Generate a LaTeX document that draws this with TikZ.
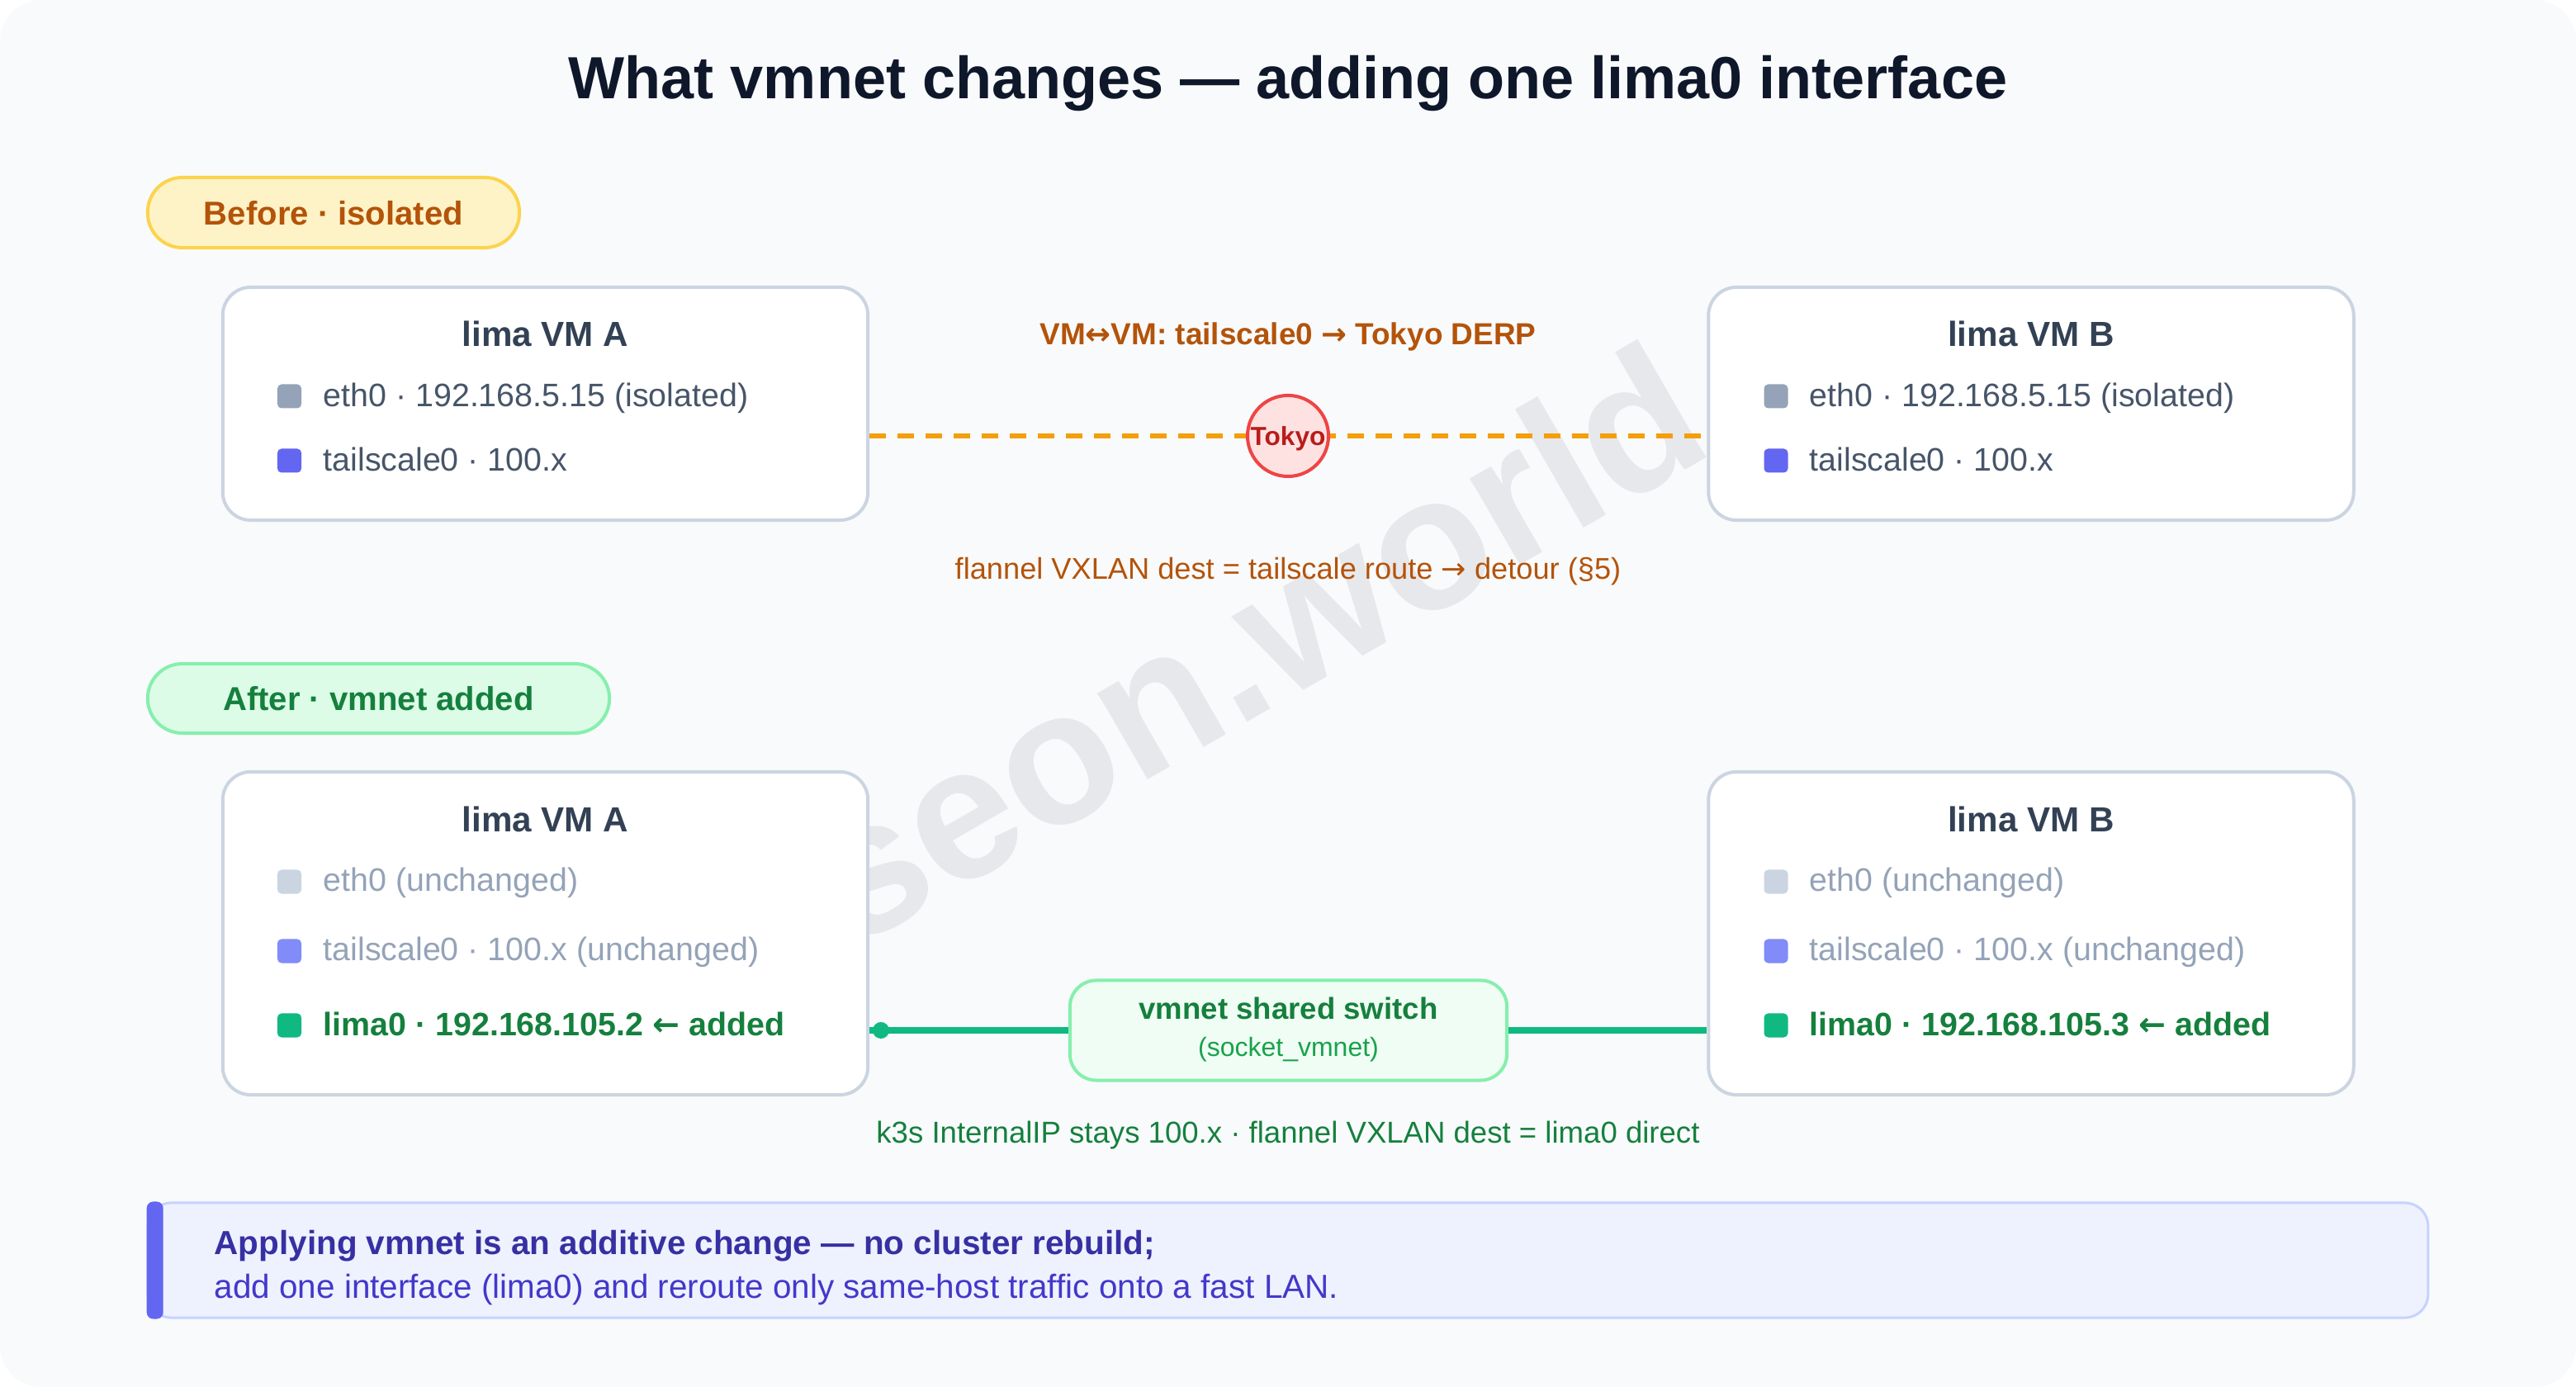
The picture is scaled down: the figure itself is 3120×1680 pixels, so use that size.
\documentclass[tikz,border=0pt]{standalone}
\usepackage{fontspec}
\setmainfont{Liberation Sans}
\newfontfamily\symfont{DejaVu Sans}
\newcommand\myfs[1]{\fontsize{#1}{#1}\selectfont}
\newcommand\arr[1]{{\symfont #1}}
\definecolor{bgc}{HTML}{F8FAFC}
\definecolor{titlec}{HTML}{0F172A}
\definecolor{boxborder}{HTML}{CBD5E1}
\definecolor{boxtitlec}{HTML}{334155}
\definecolor{itemtext}{HTML}{475569}
\definecolor{mutedtext}{HTML}{94A3B8}
\definecolor{sqgray}{HTML}{94A3B8}
\definecolor{sqindigo}{HTML}{6366F1}
\definecolor{sqlight}{HTML}{CBD5E1}
\definecolor{sqindigolight}{HTML}{818CF8}
\definecolor{sqgreen}{HTML}{10B981}
\definecolor{greentext}{HTML}{15803D}
\definecolor{greentext2}{HTML}{16A34A}
\definecolor{amberfill}{HTML}{FEF3C7}
\definecolor{amberborder}{HTML}{FCD34D}
\definecolor{ambertext}{HTML}{B45309}
\definecolor{amberline}{HTML}{F59E0B}
\definecolor{greenfill}{HTML}{DCFCE7}
\definecolor{greenborder}{HTML}{86EFAC}
\definecolor{switchfill}{HTML}{F0FDF4}
\definecolor{redfill}{HTML}{FEE2E2}
\definecolor{redborder}{HTML}{EF4444}
\definecolor{redtext}{HTML}{B91C1C}
\definecolor{calloutfill}{HTML}{EEF2FF}
\definecolor{calloutborder}{HTML}{C7D2FE}
\definecolor{calloutbar}{HTML}{6366F1}
\definecolor{callouttexta}{HTML}{3730A3}
\definecolor{callouttextb}{HTML}{4338CA}
\definecolor{wmark}{HTML}{E7E8EB}
\tikzset{
  vmbox/.style={draw=boxborder, line width=0.04cm, fill=white, rounded corners=0.34cm, inner sep=0pt, minimum width=7.81cm},
  sqbox/.style={rounded corners=0.05cm, inner sep=0pt, minimum size=0.29cm},
  boxtitle/.style={anchor=base, font=\myfs{12}\bfseries, text=boxtitlec, inner sep=0pt},
  itemtxt/.style={anchor=base west, font=\myfs{11.2}, text=itemtext, inner sep=0pt},
  mutedtxt/.style={anchor=base west, font=\myfs{11.2}, text=mutedtext, inner sep=0pt},
  addedtxt/.style={anchor=base west, font=\myfs{11.2}\bfseries, text=greentext, inner sep=0pt},
  pill/.style={line width=0.04cm, rounded corners=0.42cm, inner sep=0pt, minimum height=0.85cm},
  pilltxt/.style={anchor=base, font=\myfs{11.4}\bfseries, inner sep=0pt},
  dashline/.style={draw=amberline, line width=0.06cm, dash pattern=on 0.2cm off 0.14cm},
  greenline/.style={draw=sqgreen, line width=0.08cm},
  labeltxt/.style={anchor=base, inner sep=0pt},
}
\begin{document}
\begin{tikzpicture}[x=0.01cm,y=-0.01cm]
\useasboundingbox (0,0) rectangle (3120,1680);
\fill[white] (0,0) rectangle (3120,1680);
\fill[bgc, rounded corners=0.5cm] (0,0) rectangle (3120,1680);

% watermark
\node[rotate=30, anchor=base, font=\myfs{65}\bfseries, text=wmark, inner sep=0pt] (wm) at (1558,848) {seon.world};

% title
\node[labeltxt, font=\myfs{20.5}\bfseries, text=titlec] (title) at (1560,120) {What vmnet changes — adding one lima0 interface};

% ---------- Before ----------
\node[pill, fill=amberfill, draw=amberborder, minimum width=4.5cm] (beforepill) at (404,257.5) {};
\node[pilltxt, text=ambertext] (beforepilltxt) at (404,273) {Before · isolated};

\node[vmbox, minimum height=2.82cm] (bA) at (660.5,489) {};
\node[vmbox, minimum height=2.82cm] (bB) at (2460,489) {};

\node[boxtitle] (bAt) at (660.5,420) {lima VM A};
\node[sqbox, fill=sqgray] (bAsq1) at (350.5,480) {};
\node[itemtxt] (bAi1) at (391,493) {eth0 · 192.168.5.15 (isolated)};
\node[sqbox, fill=sqindigo] (bAsq2) at (350.5,558) {};
\node[itemtxt] (bAi2) at (391,571) {tailscale0 · 100.x};

\node[boxtitle] (bBt) at (2460,420) {lima VM B};
\node[sqbox, fill=sqgray] (bBsq1) at (2151,480) {};
\node[itemtxt] (bBi1) at (2191,493) {eth0 · 192.168.5.15 (isolated)};
\node[sqbox, fill=sqindigo] (bBsq2) at (2151,558) {};
\node[itemtxt] (bBi2) at (2191,571) {tailscale0 · 100.x};

\coordinate (tokyoc) at (1560,528);
\draw[dashline] (bA.east |- tokyoc) -- (bB.west |- tokyoc);
\node[circle, draw=redborder, line width=0.04cm, fill=redfill, minimum size=0.98cm, inner sep=0pt] (tokyo) at (tokyoc) {};
\node[labeltxt, font=\myfs{9}\bfseries, text=redtext] (tokyotxt) at (1560,540) {Tokyo};

\node[labeltxt, font=\myfs{10.5}\bfseries, text=ambertext] (derp) at (1560,418) {VM\arr{↔}VM: tailscale0 \arr{→} Tokyo DERP};
\node[labeltxt, font=\myfs{10.3}, text=ambertext] (detour) at (1560,702) {flannel VXLAN dest = tailscale route \arr{→} detour (§5)};

% ---------- After ----------
\node[pill, fill=greenfill, draw=greenborder, minimum width=5.59cm, minimum height=0.84cm] (afterpill) at (458.5,846) {};
\node[pilltxt, text=greentext] (afterpilltxt) at (458.5,861) {After · vmnet added};

\node[vmbox, minimum height=3.91cm] (aA) at (660.5,1130.5) {};
\node[vmbox, minimum height=3.91cm] (aB) at (2460,1130.5) {};

\node[boxtitle] (aAt) at (660.5,1008) {lima VM A};
\node[sqbox, fill=sqlight] (aAsq1) at (350.5,1068) {};
\node[mutedtxt] (aAi1) at (391,1080) {eth0 (unchanged)};
\node[sqbox, fill=sqindigolight] (aAsq2) at (350.5,1152) {};
\node[mutedtxt] (aAi2) at (391,1164) {tailscale0 · 100.x (unchanged)};
\node[sqbox, fill=sqgreen] (aAsq3) at (350.5,1242) {};
\node[addedtxt] (aAi3) at (391,1255) {lima0 · 192.168.105.2 \arr{←} added};

\node[boxtitle] (aBt) at (2460,1008) {lima VM B};
\node[sqbox, fill=sqlight] (aBsq1) at (2151,1068) {};
\node[mutedtxt] (aBi1) at (2191,1080) {eth0 (unchanged)};
\node[sqbox, fill=sqindigolight] (aBsq2) at (2151,1152) {};
\node[mutedtxt] (aBi2) at (2191,1164) {tailscale0 · 100.x (unchanged)};
\node[sqbox, fill=sqgreen] (aBsq3) at (2151,1242) {};
\node[addedtxt] (aBi3) at (2191,1255) {lima0 · 192.168.105.3 \arr{←} added};

\node[draw=greenborder, fill=switchfill, line width=0.04cm, rounded corners=0.32cm, minimum width=5.29cm, minimum height=1.21cm, inner sep=0pt] (switch) at (1560.5,1248) {};
\node[labeltxt, font=\myfs{10.4}\bfseries, text=greentext] (switchtxt) at (1560.5,1235) {vmnet shared switch};
\node[labeltxt, font=\myfs{9.1}, text=greentext2] (sockettxt) at (1560.5,1280) {(socket\_vmnet)};

\draw[greenline] (aA.east |- switch.center) -- (switch.west);
\draw[greenline] (switch.east) -- (aB.west |- switch.center);
\node[circle, fill=sqgreen, minimum size=0.2cm, inner sep=0pt] (dotA) at (1067,1248) {};

\node[labeltxt, font=\myfs{10.4}, text=greentext] (k3s) at (1560,1385) {k3s InternalIP stays 100.x · flannel VXLAN dest = lima0 direct};

% ---------- Callout ----------
\node[draw=calloutborder, fill=calloutfill, line width=0.03cm, rounded corners=0.28cm, minimum width=27.6cm, minimum height=1.39cm, inner sep=0pt] (callout) at (1560,1526.5) {};
\fill[calloutbar, rounded corners=0.08cm] (callout.north west) rectangle ([xshift=0.2cm]callout.south west);
\node[anchor=base west, font=\myfs{11.5}\bfseries, text=callouttexta, inner sep=0pt] (callA) at (259,1520) {Applying vmnet is an additive change — no cluster rebuild;};
\node[anchor=base west, font=\myfs{11.5}, text=callouttextb, inner sep=0pt] (callB) at (259,1573) {add one interface (lima0) and reroute only same-host traffic onto a fast LAN.};
\end{tikzpicture}
\end{document}
